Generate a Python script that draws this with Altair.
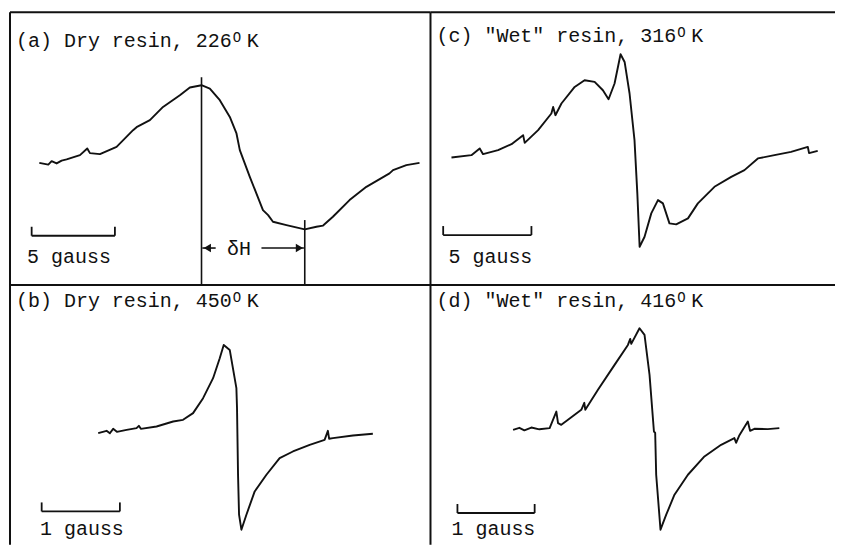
import altair as alt
import pandas as pd

FONT = "Liberation Mono"
INK = "#111111"

# ---------------- data (field in gauss from scale-bar start, signal in arbitrary units) -------------
# (a) Dry resin, 226 K
a_field = [0.46, 1.0, 1.2, 1.5, 1.8, 2.10, 2.90, 3.34, 3.50, 4.10, 5.10, 6.09, 6.3, 7.10, 7.89, 8.90,
           9.50, 10.20, 10.70, 11.30, 11.90, 12.30, 12.50, 13.10, 13.89, 14.2, 14.49, 15.30, 16.40, 17.10,
           17.5, 18.09, 19.09, 20.10, 21.49, 21.7, 22.50, 23.29]
a_signal = [0.3, -1.5, 2.0, -0.3, 2.5, 3.7, 8.0, 14.7, 10.0, 9.0, 16.3, 33.0, 36.0, 43.0, 56.3, 68.0,
            75.7, 78.0, 74.7, 63.0, 46.3, 29.7, 13.0, -13.7, -47.0, -52.0, -58.7, -62.0, -66.3, -63.7,
            -62.5, -53.7, -37.0, -23.7, -10.3, -7.0, -2.0, 0.3]

# (b) Dry resin, 450 K
b_field = [0.723, 0.830, 0.872, 0.914, 0.962, 1.086, 1.213, 1.243, 1.268, 1.469, 1.681, 1.808, 1.936,
           2.064, 2.192, 2.277, 2.328, 2.405, 2.490, 2.498, 2.511, 2.524, 2.554, 2.618, 2.724, 2.874,
           3.043, 3.213, 3.427, 3.618, 3.660, 3.676, 3.724, 3.980, 4.235]
b_signal = [-0.3, 2.0, -0.5, 4.0, 1.0, 3.0, 4.7, 7.0, 4.0, 6.3, 11.3, 13.0, 19.7,
            34.7, 54.7, 74.7, 88.0, 83.0, 44.7, 24.7, -42.0, -82.0, -97.0, -82.0, -58.7, -42.0,
            -25.3, -18.7, -12.0, -7.0, 2.0, -6.0, -5.3, -2.7, -1.0]

# (c) "Wet" resin, 316 K
c_field = [0.47, 1.60, 2.07, 2.26, 3.11, 3.87, 4.53, 4.62, 5.38, 6.13, 6.23, 6.36, 6.70, 7.45, 8.01,
           8.58, 9.05, 9.37, 9.71, 10.05, 10.28, 10.56, 10.84, 11.00, 11.13, 11.41, 11.79, 12.17,
           12.45, 12.82, 13.20, 13.87, 14.43, 15.37, 16.32, 17.07, 17.83, 18.77, 19.71, 20.66, 20.73,
           21.22]
c_signal = [-0.3, 2.0, 8.7, 3.0, 7.0, 13.0, 22.0, 14.3, 27.0, 43.7, 50.3, 42.0, 53.7, 70.3, 77.0,
            75.3, 67.0, 58.0, 73.7, 103.0, 95.3, 63.7, 17.0, -36.3, -89.7, -79.7, -56.3, -43.0,
            -46.3, -66.3, -67.3, -61.3, -46.3, -29.7, -19.7, -13.0, -1.3, 2.0, 5.3, 10.3, 4.0,
            6.3]

# (d) "Wet" resin, 416 K
d_field = [0.721, 0.802, 0.867, 0.957, 1.061, 1.194, 1.281, 1.303, 1.345, 1.432, 1.604, 1.643, 1.656,
           1.820, 2.035, 2.208, 2.238, 2.251, 2.358, 2.423, 2.488, 2.545, 2.561, 2.574, 2.630, 2.704,
           2.811, 2.985, 3.199, 3.415, 3.587, 3.609, 3.648, 3.761, 3.790, 3.846, 4.019, 4.169]
d_signal = [0.0, 2.0, -0.5, 2.3, 0.5, 1.7, 18.3, 6.7, 5.0, 10.0, 20.0, 27.0, 20.0,
            40.0, 65.0, 85.0, 91.0, 86.0, 101.7, 95.0, 55.0, -1.7, -3.0, -45.0, -100.0, -85.0,
            -65.0, -45.0, -26.7, -15.0, -8.3, -13.0, -6.0, 8.3, -1.0, 1.0, 0.7, 1.7]

titles = ['(a) Dry resin, 226', '(b) Dry resin, 450', '(c) "Wet" resin, 316', '(d) "Wet" resin, 416']
degree_mark = "O"
temp_unit = "K"
scale_labels = ["5 gauss", "1 gauss", "5 gauss", "1 gauss"]
scale_gauss = [5, 1, 5, 1]

# delta-H markers for panel (a): peak and trough field positions
dh_field = [10.20, 16.40]
dh_top = [86.0, -57.0]
dh_label = "δH"


def panel(field, signal, xdom, ydom, w, h, bar_len, bar_y, bar_tip, label, label_xy,
          title, title_xy, extra=None):
    sx = alt.Scale(domain=xdom, nice=False, zero=False)
    sy = alt.Scale(domain=ydom, nice=False, zero=False)

    def X(f):
        return alt.X(f, type="quantitative", scale=sx, axis=None)

    def Y(f):
        return alt.Y(f, type="quantitative", scale=sy, axis=None)

    df = pd.DataFrame({"x": field, "y": signal, "i": range(len(field))})
    trace = alt.Chart(df).mark_line(color=INK, strokeWidth=1.9, strokeJoin="round").encode(
        x=X("x"), y=Y("y"), order="i:Q")

    bar = alt.Chart(pd.DataFrame({"x": [0], "x2": [bar_len], "y": [bar_y]})).mark_rule(
        color=INK, strokeWidth=1.8).encode(x=X("x"), x2="x2", y=Y("y"))
    ticks = alt.Chart(pd.DataFrame({"x": [0, bar_len], "y": [bar_y] * 2, "y2": [bar_tip] * 2})).mark_rule(
        color=INK, strokeWidth=1.8).encode(x=X("x"), y=Y("y"), y2="y2")

    one = pd.DataFrame({"t": [label]})
    lab = alt.Chart(one).mark_text(align="left", baseline="alphabetic", font=FONT, fontSize=20,
                                   color=INK).encode(
        x=alt.value(label_xy[0]), y=alt.value(label_xy[1]), text="t:N")

    tx, ty = title_xy
    end = tx + len(title) * 12
    t1 = alt.Chart(pd.DataFrame({"t": [title]})).mark_text(
        align="left", baseline="alphabetic", font=FONT, fontSize=20, color=INK).encode(
        x=alt.value(tx), y=alt.value(ty), text="t:N")
    t2 = alt.Chart(pd.DataFrame({"t": [degree_mark]})).mark_text(
        align="left", baseline="alphabetic", font=FONT, fontSize=14, color=INK).encode(
        x=alt.value(end + 1), y=alt.value(ty - 5), text="t:N")
    t3 = alt.Chart(pd.DataFrame({"t": [temp_unit]})).mark_text(
        align="left", baseline="alphabetic", font=FONT, fontSize=20, color=INK).encode(
        x=alt.value(end + 15), y=alt.value(ty), text="t:N")

    dummy = pd.DataFrame({"d": [0]})
    top = alt.Chart(dummy).mark_rule(color=INK, strokeWidth=2).encode(
        x=alt.value(0), x2=alt.value(w), y=alt.value(0))
    left = alt.Chart(dummy).mark_rule(color=INK, strokeWidth=2).encode(
        x=alt.value(0), y=alt.value(0), y2=alt.value(h))

    layers = [top, left, trace, bar, ticks, lab, t1, t2, t3]
    if extra is not None:
        layers += extra(X, Y, ydom)
    return alt.layer(*layers).properties(width=w, height=h)


def dh_marks(X, Y, ydom):
    vdf = pd.DataFrame({"x": dh_field, "y": dh_top, "y2": [ydom[0]] * 2})
    vlines = alt.Chart(vdf).mark_rule(color=INK, strokeWidth=1.6).encode(x=X("x"), y=Y("y"), y2="y2")
    ay = -85.0
    shafts = alt.Chart(pd.DataFrame({"x": [10.25, 13.80], "x2": [11.05, 16.35], "y": [ay, ay]})).mark_rule(
        color=INK, strokeWidth=1.6).encode(x=X("x"), x2="x2", y=Y("y"))
    heads = alt.Chart(pd.DataFrame({"x": [10.55, 16.08], "y": [ay, ay],
                                    "s": ["triangle-left", "triangle-right"]})).mark_point(
        filled=True, color=INK, size=70, opacity=1).encode(
        x=X("x"), y=Y("y"), shape=alt.Shape("s:N", scale=None, legend=None))
    txt = alt.Chart(pd.DataFrame({"x": [12.45], "y": [ay], "t": [dh_label]})).mark_text(
        font=FONT, fontSize=20, color=INK, baseline="middle", dy=1).encode(
        x=X("x"), y=Y("y"), text="t:N")
    return [vlines, shafts, heads, txt]


pa = panel(a_field, a_signal, [-1.30, 23.95], [-122, 151], 421, 273,
           scale_gauss[0], -72.7, -63.7, scale_labels[0], (17, 251), titles[0], (6, 35), dh_marks)
pc = panel(c_field, c_signal, [-0.719, 22.20], [-128, 145], 405, 273,
           scale_gauss[2], -78.0, -69.0, scale_labels[2], (18, 251), titles[2], (6, 30))
pb = panel(b_field, b_signal, [-0.405, 4.972], [-112, 148], 421, 260,
           scale_gauss[1], -78.7, -69.7, scale_labels[1], (30, 250), titles[1], (6, 22))
pd_ = panel(d_field, d_signal, [-0.349, 4.890], [-115, 145], 405, 260,
            scale_gauss[3], -83.3, -74.3, scale_labels[3], (21, 250), titles[3], (6, 22))

chart = alt.concat(pa, pc, pb, pd_, columns=2, spacing=0, bounds="flush").properties(
    padding={"left": 1, "top": 3, "right": 0, "bottom": 0},
    background="white",
).configure_view(stroke=None)

chart.save("out.html", embed_options={"renderer": "svg", "actions": False})
